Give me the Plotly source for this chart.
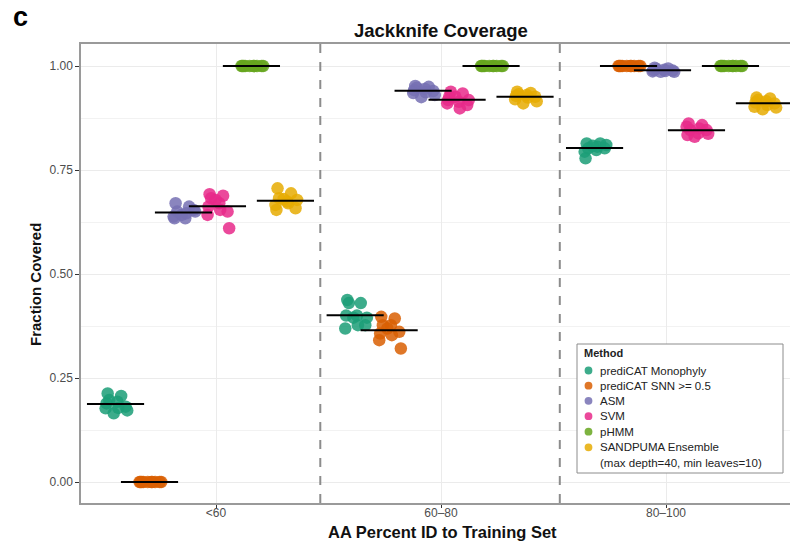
import plotly.graph_objects as go

# Jackknife coverage per method, ten folds each, in three identity bins
groups = ["<60", "60–80", "80–100"]
methods = [
    "prediCAT Monophyly",
    "prediCAT SNN >= 0.5",
    "ASM",
    "SVM",
    "pHMM",
    "SANDPUMA Ensemble<br>(max depth=40, min leaves=10)",
]
colors = ["#1B9E77", "#D95F02", "#7570B3", "#E7298A", "#66A61E", "#E6AB02"]

monophyly = [
    [0.213, 0.207, 0.197, 0.193, 0.189, 0.181, 0.178, 0.177, 0.172, 0.165],
    [0.4375, 0.430, 0.430, 0.400, 0.400, 0.377, 0.377, 0.369, 0.395, 0.395],
    [0.814, 0.814, 0.802, 0.798, 0.778, 0.802, 0.806, 0.794, 0.810, 0.808],
]
snn = [
    [0.0] * 10,
    [0.397, 0.393, 0.377, 0.377, 0.357, 0.361, 0.353, 0.341, 0.321, 0.369],
    [1.0] * 10,
]
asm = [
    [0.670, 0.662, 0.650, 0.634, 0.634, 0.654, 0.646, 0.638, 0.650, 0.642],
    [0.952, 0.950, 0.948, 0.945, 0.942, 0.940, 0.937, 0.935, 0.930, 0.925],
    [0.996, 0.994, 0.993, 0.991, 0.990, 0.989, 0.988, 0.987, 0.986, 0.986],
]
svm = [
    [0.692, 0.688, 0.682, 0.670, 0.662, 0.650, 0.654, 0.642, 0.610, 0.678],
    [0.926, 0.934, 0.938, 0.914, 0.918, 0.906, 0.898, 0.910, 0.918, 0.926],
    [0.862, 0.858, 0.846, 0.838, 0.834, 0.846, 0.850, 0.854, 0.837, 0.830],
]
phmm = [
    [1.0] * 10,
    [1.0] * 10,
    [1.0] * 10,
]
sandpuma = [
    [0.706, 0.694, 0.682, 0.674, 0.654, 0.658, 0.670, 0.666, 0.678, 0.680],
    [0.938, 0.935, 0.932, 0.930, 0.928, 0.926, 0.924, 0.920, 0.915, 0.910],
    [0.924, 0.922, 0.918, 0.915, 0.912, 0.910, 0.906, 0.902, 0.900, 0.896],
]
series = [monophyly, snn, asm, svm, phmm, sandpuma]

# horizontal jitter pattern (axis units) shared by every cluster
jitter = [-0.035, 0.025, -0.028, 0.008, -0.040, 0.045, 0.012, -0.044, 0.052, -0.008]

group_centers = [0.931, 1.996, 3.060]
step = 0.151
half_bar = 0.127

# plot-area geometry in pixels, used to place the hand-built legend and labels
W, H = 790, 545
L, T, B = 81, 44, 42
PW, PH = W - L, H - T - B


def px(x):
    return (x - L) / PW


def py(y):
    return (H - B - y) / PH


fig = go.Figure()

mean_x, mean_y = [], []
for m, (name, col, data) in enumerate(zip(methods, colors, series)):
    xs, ys = [], []
    for g, vals in enumerate(data):
        cx = group_centers[g] + (m - 2.5) * step
        for j, v in enumerate(vals):
            xs.append(cx + jitter[j])
            ys.append(v)
        mu = sum(vals) / len(vals)
        mean_x += [cx - half_bar, cx + half_bar, None]
        mean_y += [mu, mu, None]
    fig.add_trace(go.Scatter(
        x=xs, y=ys, mode="markers", name=name, showlegend=False,
        marker=dict(color=col, size=12.5, opacity=0.85, line=dict(width=0)),
    ))

fig.add_trace(go.Scatter(
    x=mean_x, y=mean_y, mode="lines", showlegend=False,
    line=dict(color="black", width=2), hoverinfo="skip",
))

# dashed separators between identity bins
for a, b in zip(group_centers[:-1], group_centers[1:]):
    fig.add_shape(type="line", xref="x", yref="paper", x0=(a + b) / 2, x1=(a + b) / 2,
                  y0=0, y1=1, line=dict(color="#8c8c8c", width=2, dash="dash"))

# legend box
fig.add_shape(type="rect", xref="paper", yref="paper",
              x0=px(577), x1=px(783), y0=py(473), y1=py(344),
              line=dict(color="#8c8c8c", width=1), fillcolor="white", layer="above")
fig.add_annotation(text="<b>Method</b>", xref="paper", yref="paper", x=px(582), y=py(353),
                   xanchor="left", yanchor="middle", showarrow=False,
                   font=dict(size=11, color="#222"))
item_y = [370.5, 385.7, 400.8, 416.2, 431.7, 447.3]
for name, col, yy in zip(methods, colors, item_y):
    fig.add_shape(type="circle", xref="paper", yref="paper",
                  xsizemode="pixel", ysizemode="pixel",
                  xanchor=px(588.5), yanchor=py(yy),
                  x0=-3.9, x1=3.9, y0=-3.9, y1=3.9,
                  fillcolor=col, opacity=0.85, line=dict(width=0), layer="above")
    label = name.split("<br>")
    fig.add_annotation(text=label[0], xref="paper", yref="paper", x=px(598), y=py(yy),
                       xanchor="left", yanchor="middle", showarrow=False,
                       font=dict(size=11.5, color="#222"))
    if len(label) > 1:
        fig.add_annotation(text=label[1], xref="paper", yref="paper", x=px(598),
                           y=py(yy + 15.8), xanchor="left", yanchor="middle",
                           showarrow=False, font=dict(size=11.5, color="#222"))

fig.add_annotation(text="<b>c</b>", xref="paper", yref="paper", x=px(11), y=py(17),
                   xanchor="left", yanchor="middle", showarrow=False,
                   font=dict(size=27, color="black"))
fig.add_annotation(text="<b>Jackknife Coverage</b>", xref="paper", yref="paper",
                   x=px(441), y=py(30), xanchor="center", yanchor="middle", showarrow=False,
                   font=dict(size=18.5, color="#111"))
fig.add_annotation(text="<b>AA Percent ID to Training Set</b>", xref="paper", yref="paper",
                   x=px(442), y=py(532), xanchor="center", yanchor="middle", showarrow=False,
                   font=dict(size=16.5, color="#111"))
fig.add_annotation(text="<b>Fraction Covered</b>", xref="paper", yref="paper",
                   x=px(35), y=py(285), xanchor="center", yanchor="middle", showarrow=False,
                   textangle=-90, font=dict(size=15, color="#111"))

fig.update_layout(
    width=W, height=H,
    margin=dict(l=L, r=0, t=T, b=B),
    paper_bgcolor="white", plot_bgcolor="white",
    font=dict(family="Liberation Sans, Arial, sans-serif", color="#222"),
    showlegend=False,
    xaxis=dict(
        range=[0.4, 0.4 + PW / 225], tickvals=[1, 2, 3], ticktext=groups,
        showgrid=True, gridcolor="#ebebeb", gridwidth=1, zeroline=False,
        showline=True, linecolor="#9a9a9a", linewidth=1.5, mirror=True,
        ticks="outside", ticklen=3, tickcolor="#333", ticklabelstandoff=-5,
        tickfont=dict(size=12, color="#4d4d4d"),
    ),
    yaxis=dict(
        range=[-21 / 416, 438 / 416], tickvals=[0, 0.25, 0.5, 0.75, 1.0], tickformat=".2f",
        showgrid=True, gridcolor="#ebebeb", gridwidth=1, zeroline=False,
        minor=dict(dtick=0.125, showgrid=True, gridcolor="#f2f2f2", gridwidth=1),
        showline=True, linecolor="#9a9a9a", linewidth=1.5,
        ticks="outside", ticklen=4, tickcolor="#333",
        tickfont=dict(size=12, color="#4d4d4d"),
    ),
)

fig.write_html("out.html")
